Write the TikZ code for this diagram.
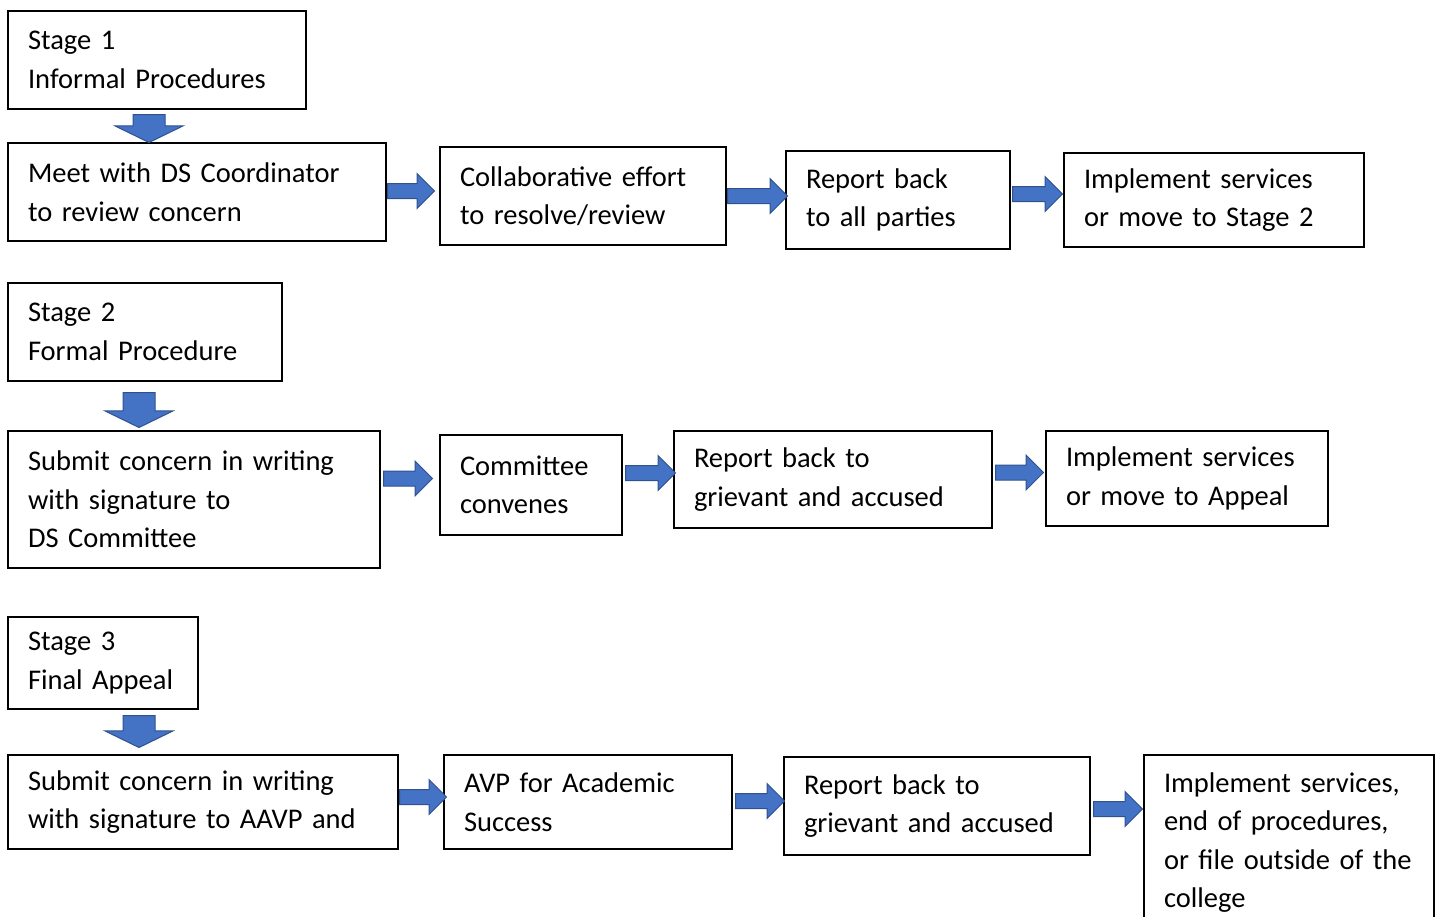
\documentclass[tikz,border=0pt]{standalone}
\usepackage{fontspec}
\setmainfont{Carlito}
\usetikzlibrary{shapes.arrows}
\definecolor{arrowblue}{HTML}{4472C4}
\definecolor{arrowedge}{HTML}{2F528F}
\begin{document}
\begin{tikzpicture}
      [%%%%%%%%%%%%%%%%%%%%%%%%%%%%%%
      x=1pt,y=-1pt,
      box/.style={rectangle,draw=black,line width=2pt,anchor=north west,align=left,
        inner xsep=20pt,inner ysep=0pt,font=\fontsize{28.5}{38.5}\selectfont},
      blockarrow/.style={single arrow,draw=arrowedge,fill=arrowblue,line width=1pt,
        inner xsep=0pt,anchor=tail},
      rarrow/.style={blockarrow,inner ysep=7pt,single arrow head extend=10pt,minimum height=#1},
      darrow/.style={blockarrow,rotate=-90,inner ysep=15.5pt,single arrow head extend=18pt,
        single arrow tip angle=128,minimum height=#1},
      ]%%%%%%%%%%%%%%%%%%%%%%%%%%%%%%
      \clip (0,0) rectangle (1440,916);

      % stage 1
      \node[box,text width=258pt,minimum height=98pt] (stageone) at (7,10) {Stage 1\\Informal Procedures};
      \node[box,text width=338pt,minimum height=98pt] (meetone) at (7,142) {Meet with DS Coordinator\\to review concern};
      \node[box,text width=246pt,minimum height=98pt] (collabone) at (439,146) {Collaborative effort\\to resolve/review};
      \node[box,text width=184pt,minimum height=98pt] (reportone) at (785,150) {Report back\\to all parties};
      \node[box,text width=260pt,minimum height=94pt] (implone) at (1063,152) {Implement services\\or move to Stage 2};

      \node[darrow=28pt] (downone) at ([xshift=-8pt,yshift=-4pt]stageone.south) {};
      \node[rarrow=47pt] (aone) at ([yshift=1pt]meetone.east) {};
      \node[rarrow=60pt] (atwo) at (collabone.east) {};
      \node[rarrow=50pt] (athree) at ([xshift=1pt,yshift=6pt]reportone.east) {};

      % stage 2
      \node[box,text width=234pt,minimum height=98pt] (stagetwo) at (7,282) {Stage 2\\Formal Procedure};
      \node[box,text width=332pt,minimum height=137pt] (submittwo) at (7,430) {Submit concern in writing\\with signature to\\DS Committee};
      \node[box,text width=142pt,minimum height=100pt] (committwo) at (439,434) {Committee\\convenes};
      \node[box,text width=278pt,minimum height=97pt] (reporttwo) at (673,430) {Report back to\\grievant and accused};
      \node[box,text width=242pt,minimum height=95pt] (impltwo) at (1045,430) {Implement services\\or move to Appeal};

      \node[darrow=35pt] (downtwo) at ([xshift=-6pt,yshift=-10pt]stagetwo.south) {};
      \node[rarrow=49pt] (afour) at ([xshift=2pt,yshift=21pt]submittwo.east) {};
      \node[rarrow=50pt] (afive) at ([xshift=2pt,yshift=12pt]committwo.east) {};
      \node[rarrow=48pt] (asix) at ([xshift=2pt,yshift=7pt]reporttwo.east) {};

      % stage 3
      \node[box,text width=150pt,minimum height=92pt] (stagethree) at (7,616) {Stage 3\\Final Appeal};
      \node[box,text width=350pt,minimum height=94pt] (submitthree) at (7,754) {Submit concern in writing\\with signature to AAVP and};
      \node[box,text width=248pt,minimum height=94pt] (avpthree) at (443,754) {AVP for Academic\\Success};
      \node[box,text width=266pt,minimum height=98pt] (reportthree) at (783,756) {Report back to\\grievant and accused};
      \node[box,text width=250pt,minimum height=175pt] (implthree) at (1143,754) {Implement services,\\end of procedures,\\or file outside of the\\college};

      \node[darrow=32pt] (downthree) at ([xshift=36pt,yshift=-5pt]stagethree.south) {};
      \node[rarrow=47pt] (aseven) at ([yshift=5pt]submitthree.east) {};
      \node[rarrow=49pt] (aeight) at ([xshift=2pt,yshift=1pt]avpthree.east) {};
      \node[rarrow=49pt] (anine) at ([xshift=2pt,yshift=-3pt]reportthree.east) {};
\end{tikzpicture}
\end{document}
